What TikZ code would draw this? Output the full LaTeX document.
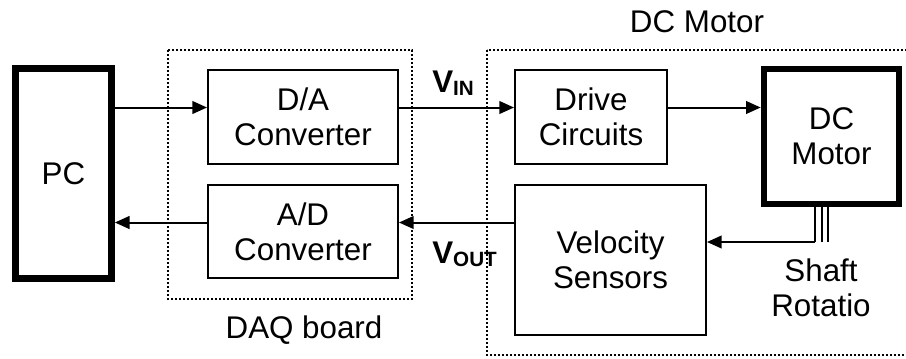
\documentclass[tikz,border=0pt]{standalone}
\usepackage{fontspec}
\setmainfont{Liberation Sans}
\usetikzlibrary{arrows.meta,calc}

\begin{document}
\begin{tikzpicture}[x=0.75pt,y=-0.75pt,
  font=\fontsize{23.5}{26.5}\selectfont,
  blk/.style={draw, line width=1.5pt, align=center, inner sep=0pt},
  heavy/.style={draw, line width=5pt, align=center, inner sep=0pt},
  grp/.style={draw, line width=1.8pt, dash pattern=on 1.7pt off 1.3pt},
  arr/.style={-{Triangle[length=11pt,width=9.5pt]}, line width=1.5pt},
  sig/.style={font=\fontsize{23.5}{26.5}\selectfont\bfseries, anchor=base west, inner sep=0pt}
]
\useasboundingbox (0,0) rectangle (906,358);

\node[heavy, minimum width=72pt, minimum height=157.5pt] (pc) at (63.5,173.5) {PC};
\node[blk, minimum width=142.5pt, minimum height=70.5pt] (da) at (303,117) {D/A\\Converter};
\node[blk, minimum width=142.5pt, minimum height=69.75pt] (ad) at (303,231.5) {A/D\\Converter};
\node[blk, minimum width=114pt, minimum height=70.5pt] (drive) at (591,117) {Drive\\Circuits};
\node[blk, minimum width=143.25pt, minimum height=112.5pt] (vel) at (610.5,260) {Velocity\\Sensors};
\node[heavy, minimum width=101.25pt, minimum height=101.25pt] (motor) at (831.5,136.5) {DC\\Motor};

% signal rows
\coordinate (rowtop) at (0,107.5);
\coordinate (rowbot) at (0,222.5);
\coordinate (shaft) at (815,242);

\draw[arr] (pc.east |- rowtop) -- (da.west |- rowtop);
\draw[arr] (da.east |- rowtop) -- (drive.west |- rowtop);
\draw[arr] (drive.east |- rowtop) -- (motor.west |- rowtop);
\draw[arr] (vel.west |- rowbot) -- (ad.east |- rowbot);
\draw[arr] (ad.west |- rowbot) -- (pc.east |- rowbot);

% shaft out of the motor
\foreach \sx in {815,822,828}
  \draw[line width=1.6pt] (motor.south -| \sx,0) -- (\sx,242);
\draw[arr] (shaft) -- (vel.east |- shaft);

\node[sig] (vin) at (432,92) {V\raisebox{-2.5pt}{\fontsize{15.5}{16}\selectfont IN}};
\node[sig] (vout) at (432,263) {V\raisebox{-2.5pt}{\fontsize{15.5}{16}\selectfont OUT}};

\node[anchor=base] (motortitle) at (697,32) {DC Motor};
\node[anchor=base] (daqtitle) at (304,338) {DAQ board};
\node[align=center] (shaftlbl) at (821,288) {Shaft\\Rotatio};

% dotted group frames
\draw[grp] (168,50) rectangle (412,299);
\draw[grp] (487,50) rectangle (912,355);
\end{tikzpicture}
\end{document}
